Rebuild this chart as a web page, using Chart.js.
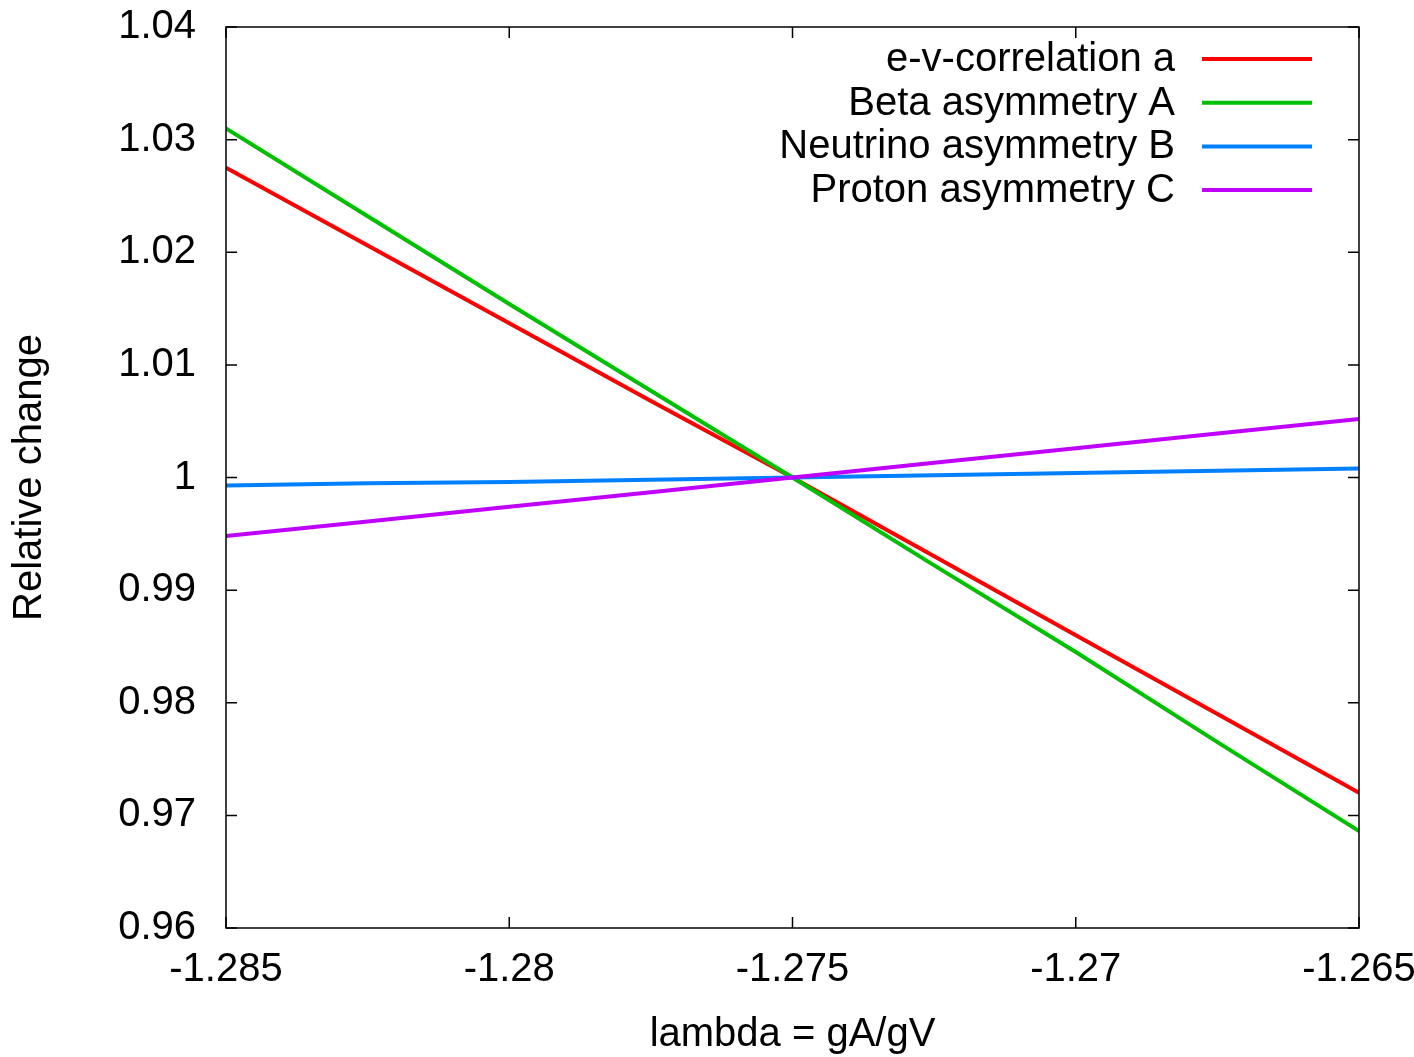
<!DOCTYPE html>
<html>
<head>
<meta charset="utf-8">
<script src="https://cdn.jsdelivr.net/npm/chart.js@4.4.1/dist/chart.umd.min.js"></script>
<style>
  html, body { margin: 0; padding: 0; background: #fff; }
  #wrap { width: 1414px; height: 1057px; }
</style>
</head>
<body>
<div id="wrap"><canvas id="chart"></canvas></div>
<script>
// values
const lambdaValues = [-1.285, -1.2825, -1.28, -1.2775, -1.275, -1.2725, -1.27, -1.2675, -1.265];
const evCorrelation = [1.0275, 1.0206, 1.0137, 1.0068, 1.0, 0.9930, 0.9860, 0.9790, 0.9720];
const betaAsym      = [1.0310, 1.0232, 1.0154, 1.0077, 1.0, 0.9922, 0.9845, 0.9765, 0.9686];
const neutrinoAsym  = [0.9993, 0.9995, 0.9996, 0.9998, 1.0, 1.0002, 1.0004, 1.0006, 1.0008];
const protonAsym    = [0.9948, 0.9961, 0.9974, 0.9987, 1.0, 1.0013, 1.0026, 1.0039, 1.0052];

const seriesNames = ['e-v-correlation a', 'Beta asymmetry A', 'Neutrino asymmetry B', 'Proton asymmetry C'];
const seriesColors = ['#ff0000', '#00c000', '#0080ff', '#c000ff'];

const xTicks = [-1.285, -1.28, -1.275, -1.27, -1.265];
const yTicks = [0.96, 0.97, 0.98, 0.99, 1.0, 1.01, 1.02, 1.03, 1.04];

const FONT = 'Liberation Sans, Arial, sans-serif';
const FS = 40;
Chart.defaults.color = '#000';
Chart.defaults.font.family = FONT;

const fmt = v => String(Number(v.toFixed(4)));
const toPts = ys => lambdaValues.map((x, i) => ({x, y: ys[i]}));

const allSeries = [evCorrelation, betaAsym, neutrinoAsym, protonAsym];
const datasets = allSeries.map((ys, i) => ({
  label: seriesNames[i],
  data: toPts(ys),
  borderColor: seriesColors[i],
  backgroundColor: seriesColors[i],
  borderWidth: 4,
  pointRadius: 0,
  tension: 0,
  order: allSeries.length - i
}));

// frame with inward ticks on all four sides, gnuplot style
const framePlugin = {
  id: 'frame',
  afterDatasetsDraw(chart) {
    const {ctx, chartArea: ca, scales: {x, y}} = chart;
    const tl = 11;
    ctx.save();
    ctx.strokeStyle = '#000';
    ctx.lineWidth = 1.5;
    ctx.strokeRect(ca.left, ca.top, ca.right - ca.left, ca.bottom - ca.top);
    ctx.beginPath();
    xTicks.forEach(v => {
      const px = x.getPixelForValue(v);
      ctx.moveTo(px, ca.bottom); ctx.lineTo(px, ca.bottom - tl);
      ctx.moveTo(px, ca.top); ctx.lineTo(px, ca.top + tl);
    });
    yTicks.forEach(v => {
      const py = y.getPixelForValue(v);
      ctx.moveTo(ca.left, py); ctx.lineTo(ca.left + tl, py);
      ctx.moveTo(ca.right, py); ctx.lineTo(ca.right - tl, py);
    });
    ctx.stroke();
    ctx.restore();
  }
};

// key in the top right corner: text right aligned, sample line after it
const keyPlugin = {
  id: 'key',
  afterDraw(chart) {
    const {ctx, chartArea: ca} = chart;
    ctx.save();
    ctx.font = FS + 'px ' + FONT;
    ctx.textAlign = 'right';
    ctx.textBaseline = 'middle';
    chart.data.datasets.forEach((ds, i) => {
      const yy = ca.top + 32 + i * 43.7;
      ctx.fillStyle = '#000';
      ctx.fillText(ds.label, ca.right - 184, yy + 1);
      ctx.strokeStyle = ds.borderColor;
      ctx.lineWidth = 4;
      ctx.beginPath();
      ctx.moveTo(ca.right - 157, yy);
      ctx.lineTo(ca.right - 47, yy);
      ctx.stroke();
    });
    ctx.restore();
  }
};

new Chart(document.getElementById('chart'), {
  type: 'line',
  data: {datasets},
  options: {
    responsive: true,
    maintainAspectRatio: false,
    animation: false,
    layout: {padding: {top: 27, right: 55, bottom: 0, left: 0}},
    plugins: {legend: {display: false}, tooltip: {enabled: false}},
    scales: {
      x: {
        type: 'linear',
        min: -1.285,
        max: -1.265,
        afterBuildTicks: s => { s.ticks = xTicks.map(v => ({value: v})); },
        afterFit: s => { s.height = 129; s.paddingLeft = 0; s.paddingRight = 0; },
        grid: {display: false, drawTicks: false},
        border: {display: false},
        ticks: {font: {size: FS}, padding: 18, maxRotation: 0, autoSkip: false, callback: v => fmt(v)},
        title: {display: true, text: 'lambda = gA/gV', font: {size: FS}, padding: {top: 0, bottom: -2}}
      },
      y: {
        type: 'linear',
        min: 0.96,
        max: 1.04,
        afterBuildTicks: s => { s.ticks = yTicks.map(v => ({value: v})); },
        afterFit: s => { s.width = 226; s.paddingTop = 0; s.paddingBottom = 0; },
        grid: {display: false, drawTicks: false},
        border: {display: false},
        ticks: {font: {size: FS}, padding: 30, autoSkip: false, callback: v => fmt(v)},
        title: {display: true, text: 'Relative change', font: {size: FS}, padding: {top: 6, bottom: 0}}
      }
    }
  },
  plugins: [framePlugin, keyPlugin]
});
</script>
</body>
</html>
